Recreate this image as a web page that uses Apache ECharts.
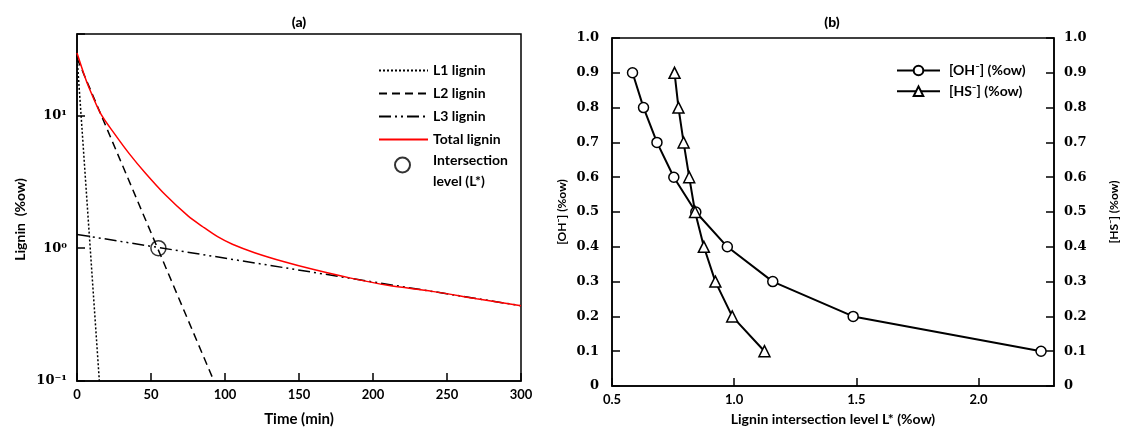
<!DOCTYPE html>
<html>
<head>
<meta charset="utf-8">
<script src="https://cdn.jsdelivr.net/npm/echarts@6/dist/echarts.min.js"></script>
<style>
html,body{margin:0;padding:0;background:#fff}
#chart{width:1123px;height:432px}
</style>
</head>
<body>
<div id="chart"></div>
<script>
// (a) lignin vs time, log scale
var timeL1 = [0, 15.1];
var ligninL1 = [28, 0.1];
var timeL2 = [0, 92.5];
var ligninL2 = [27, 0.1];
var timeL3 = [0, 300];
var ligninL3 = [1.27, 0.369];
var timeTotal = [0, 5, 8, 16, 26, 35, 46, 60, 75, 85, 95, 105, 120, 140, 160, 185, 210, 240, 270, 300];
var ligninTotal = [29.5, 20, 16.3, 10.3, 7.1, 5.2, 3.7, 2.5, 1.75, 1.45, 1.22, 1.07, 0.925, 0.79, 0.69, 0.595, 0.525, 0.473, 0.417, 0.369];
var intersectTime = [55];
var intersectLignin = [1.0];

// (b) concentration vs intersection level
var levelOH = [0.584, 0.629, 0.684, 0.753, 0.843, 0.972, 1.158, 1.487, 2.256];
var concOH = [0.9, 0.8, 0.7, 0.6, 0.5, 0.4, 0.3, 0.2, 0.1];
var levelHS = [0.756, 0.772, 0.793, 0.816, 0.840, 0.876, 0.923, 0.992, 1.124];
var concHS = [0.9, 0.8, 0.7, 0.6, 0.5, 0.4, 0.3, 0.2, 0.1];

function zip(xs, ys) {
	return xs.map(function (x, i) { return [x, ys[i]]; });
}

var sansBold = { fontFamily: 'Lato', fontWeight: 'bold', color: '#000' };
var serifBold = { fontFamily: 'DejaVu Serif', fontWeight: 'bold', color: '#000', fontSize: 13 };
var blackLine = { color: '#000', width: 1.5 };
var tick = { show: true, inside: true, length: 8, lineStyle: { color: '#000', width: 1.5 } };
var sup = { '-1': '\u207B\u00B9', '0': '\u2070', '1': '\u00B9' };

var option = {
	animation: false,
	backgroundColor: '#fff',
	graphic: [
		{ type: 'text', x: 299, y: 22, style: { text: '(a)', font: '900 14px Lato', fill: '#000', align: 'center', verticalAlign: 'middle' } },
		{ type: 'text', x: 832, y: 22, style: { text: '(b)', font: '900 14px Lato', fill: '#000', align: 'center', verticalAlign: 'middle' } }
	],
	grid: [
		{ left: 77, top: 34, width: 444, height: 349, show: true, borderColor: '#000', borderWidth: 1.5 },
		{ left: 612, top: 38, width: 442, height: 348, show: true, borderColor: '#000', borderWidth: 1.5 }
	],
	legend: [{
		orient: 'vertical',
		left: 378,
		top: 60,
		padding: 0,
		itemWidth: 49,
		itemHeight: 14,
		itemGap: 2,
		itemStyle: { color: 'rgba(0,0,0,0)', borderWidth: 0, opacity: 0 },
		textStyle: Object.assign({ fontSize: 14, lineHeight: 21 }, sansBold),
		data: ['L1 lignin', 'L2 lignin', 'L3 lignin', 'Total lignin']
	}, {
		orient: 'vertical',
		left: 394,
		top: 138.5,
		padding: 0,
		itemWidth: 49,
		itemHeight: 15,
		formatter: function () {
			return '{s| }\n{t|Intersection}\n{t|level (L*)}';
		},
		textStyle: Object.assign({
			fontSize: 14, lineHeight: 21, padding: [0, 0, 0, 1],
			rich: {
				s: { fontSize: 2, lineHeight: 11 },
				t: Object.assign({ fontSize: 14, lineHeight: 21 }, sansBold)
			}
		}, sansBold),
		data: ['Intersection level (L*)']
	}, {
		orient: 'vertical',
		left: 896,
		top: 63,
		padding: 0,
		itemWidth: 43,
		itemHeight: 12,
		itemGap: 5.7,
		textStyle: Object.assign({ fontSize: 14, lineHeight: 15, padding: [0, 0, 0, 4] }, sansBold),
		data: ['[OH\u207B] (%ow)', '[HS\u207B] (%ow)']
	}],
	xAxis: [{
		gridIndex: 0,
		type: 'value',
		min: 0,
		max: 300,
		interval: 50,
		name: 'Time (min)',
		nameLocation: 'middle',
		nameGap: 31,
		nameTextStyle: Object.assign({ fontSize: 15 }, sansBold),
		axisLine: { lineStyle: blackLine },
		axisTick: tick,
		axisLabel: Object.assign({ fontSize: 13, margin: 7 }, sansBold),
		splitLine: { show: false }
	}, {
		gridIndex: 1,
		type: 'value',
		min: 0.5,
		max: 2.309,
		interval: 0.5,
		name: 'Lignin intersection level L* (%ow)',
		nameLocation: 'middle',
		nameGap: 26,
		nameTextStyle: Object.assign({ fontSize: 14 }, sansBold),
		axisLine: { lineStyle: blackLine },
		axisTick: tick,
		axisLabel: Object.assign({
			fontSize: 13, margin: 7, showMaxLabel: false,
			formatter: function (v) { return v.toFixed(1); }
		}, sansBold),
		splitLine: { show: false }
	}],
	yAxis: [{
		gridIndex: 0,
		type: 'log',
		logBase: 10,
		min: 0.1,
		max: 41,
		name: 'Lignin  (%ow)',
		nameLocation: 'middle',
		nameRotate: 90,
		nameGap: 50,
		nameTextStyle: Object.assign({ fontSize: 14, padding: [0, 24, 0, 0] }, sansBold),
		axisLine: { lineStyle: blackLine },
		axisTick: tick,
		axisLabel: Object.assign({
			margin: 10,
			formatter: function (v) {
				var e = Math.round(Math.log10(v));
				if (Math.abs(Math.log10(v) - e) > 0.01) return '';
				return '10' + sup[String(e)];
			}
		}, serifBold),
		splitLine: { show: false },
		minorTick: { show: false }
	}, {
		gridIndex: 1,
		type: 'value',
		min: 0,
		max: 1,
		interval: 0.1,
		name: '[OH\u207B] (%ow)',
		nameLocation: 'middle',
		nameRotate: 90,
		nameGap: 44,
		nameTextStyle: Object.assign({ fontSize: 12 }, sansBold),
		axisLine: { lineStyle: blackLine },
		axisTick: tick,
		axisLabel: Object.assign({
			margin: 13,
			formatter: function (v) { return v === 0 ? '0' : v.toFixed(1); }
		}, serifBold),
		splitLine: { show: false }
	}, {
		gridIndex: 1,
		type: 'value',
		position: 'right',
		min: 0,
		max: 1,
		interval: 0.1,
		name: '[HS\u207B] (%ow)',
		nameLocation: 'middle',
		nameRotate: 90,
		nameGap: 54,
		nameTextStyle: Object.assign({ fontSize: 12 }, sansBold),
		axisLine: { show: true, lineStyle: blackLine },
		axisTick: tick,
		axisLabel: Object.assign({
			margin: 10,
			formatter: function (v) { return v === 0 ? '0' : v.toFixed(1); }
		}, serifBold),
		splitLine: { show: false }
	}],
	series: [{
		name: 'L1 lignin',
		type: 'line',
		xAxisIndex: 0, yAxisIndex: 0,
		symbol: 'none',
		lineStyle: { color: '#000', width: 1.5, type: [2, 2] },
		itemStyle: { color: '#000' },
		data: zip(timeL1, ligninL1)
	}, {
		name: 'L2 lignin',
		type: 'line',
		xAxisIndex: 0, yAxisIndex: 0,
		symbol: 'none',
		lineStyle: { color: '#000', width: 1.5, type: [8, 5] },
		itemStyle: { color: '#000' },
		data: zip(timeL2, ligninL2)
	}, {
		name: 'L3 lignin',
		type: 'line',
		xAxisIndex: 0, yAxisIndex: 0,
		symbol: 'none',
		lineStyle: { color: '#000', width: 1.5, type: [12, 4, 2, 4, 2, 4] },
		itemStyle: { color: '#000' },
		data: zip(timeL3, ligninL3)
	}, {
		name: 'Total lignin',
		type: 'line',
		xAxisIndex: 0, yAxisIndex: 0,
		symbol: 'none',
		smooth: 0.3,
		lineStyle: { color: '#ff0000', width: 1.5 },
		itemStyle: { color: '#ff0000' },
		data: zip(timeTotal, ligninTotal)
	}, {
		name: 'Intersection level (L*)',
		type: 'scatter',
		xAxisIndex: 0, yAxisIndex: 0,
		symbol: 'circle',
		symbolSize: 15,
		itemStyle: { color: 'rgba(255,255,255,0)', borderColor: '#000', borderWidth: 1.5 },
		data: zip(intersectTime, intersectLignin)
	}, {
		name: '[OH\u207B] (%ow)',
		type: 'line',
		xAxisIndex: 1, yAxisIndex: 1,
		symbol: 'circle',
		symbolSize: 10,
		lineStyle: { color: '#000', width: 2 },
		itemStyle: { color: '#fff', borderColor: '#000', borderWidth: 1.5 },
		data: zip(levelOH, concOH)
	}, {
		name: '[HS\u207B] (%ow)',
		type: 'line',
		xAxisIndex: 1, yAxisIndex: 2,
		symbol: 'triangle',
		symbolSize: 11,
		lineStyle: { color: '#000', width: 2 },
		itemStyle: { color: '#fff', borderColor: '#000', borderWidth: 1.5 },
		data: zip(levelHS, concHS)
	}]
};

var myChart = echarts.init(document.getElementById('chart'));
myChart.setOption(option);
</script>
</body>
</html>
